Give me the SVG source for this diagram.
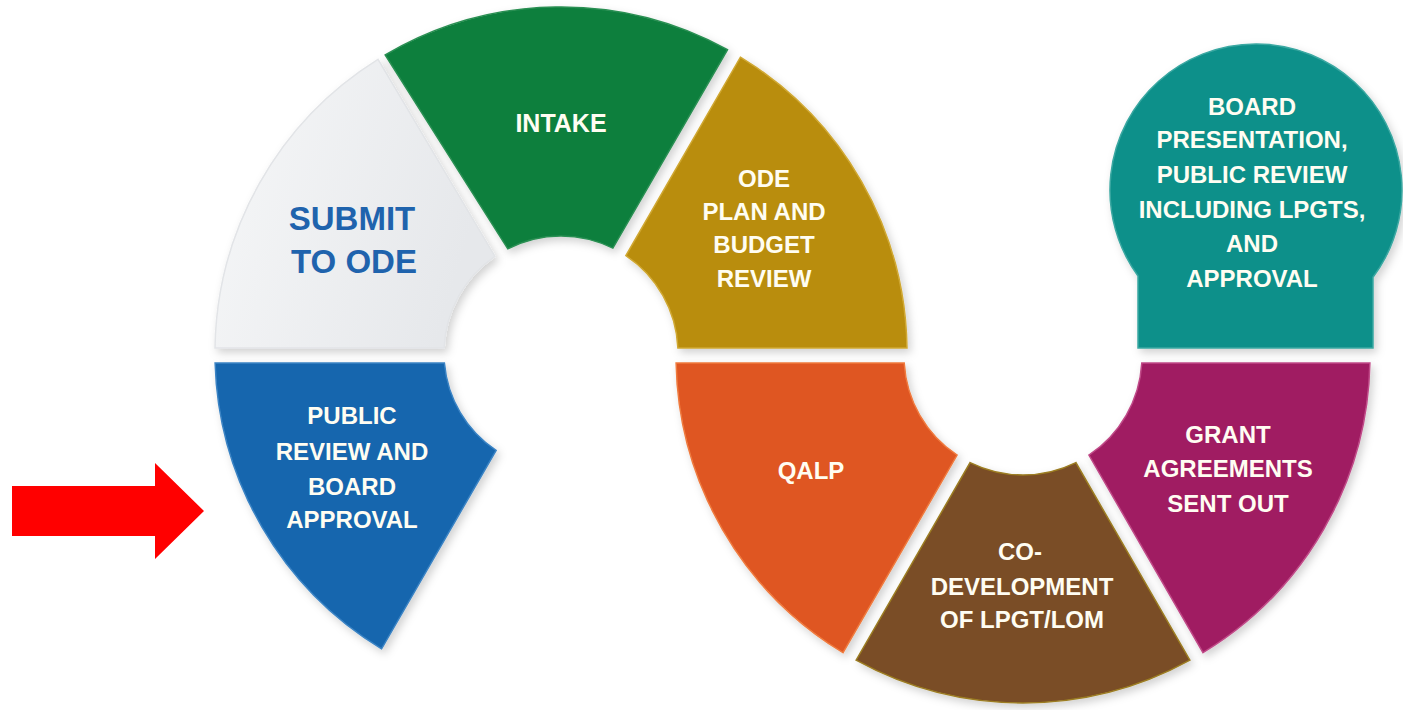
<svg xmlns="http://www.w3.org/2000/svg" width="1403" height="710" viewBox="0 0 1403 710">
  <defs>
    <filter id="shadow" x="-10%" y="-10%" width="125%" height="125%">
      <feDropShadow dx="3" dy="4" stdDeviation="4" flood-color="#000" flood-opacity="0.18"/>
    </filter>
    <linearGradient id="whiteGrad" x1="0" y1="0" x2="1" y2="0.3">
      <stop offset="0" stop-color="#f6f7f8"/>
      <stop offset="1" stop-color="#e6e8eb"/>
    </linearGradient>
    <style>
      .seg { filter: url(#shadow); stroke-width: 1.5; }
      .lbl { font-family: "Liberation Sans", Arial, sans-serif; font-weight: bold; font-size: 24px; fill: #fffdf2; text-anchor: middle; }
      .big { font-size: 33px; fill: #1f63ad; }
    </style>
  </defs>
  <rect width="1403" height="710" fill="#ffffff"/>

  <g id="node-public-review">
    <path class="seg" d="M 215.1,363 L 444.4,363 A 117 117 0 0 0 496.1,450.4 L 381.6,648.8 A 346 346 0 0 1 215.1,363 Z" fill="#1566ae" stroke="#3a83c4"/>
    <text class="lbl" x="352" y="424">PUBLIC</text>
    <text class="lbl" x="352" y="460">REVIEW AND</text>
    <text class="lbl" x="352" y="495">BOARD</text>
    <text class="lbl" x="352" y="528">APPROVAL</text>
  </g>

  <g id="node-submit">
    <path class="seg" d="M 215.0,348 A 346 346 0 0 1 378.0,59.4 L 494.9,256.4 A 117 117 0 0 0 444.1,348 Z" fill="url(#whiteGrad)" stroke="#e2e4e7"/>
    <text class="lbl big" x="352" y="230">SUBMIT</text>
    <text class="lbl big" x="354" y="273">TO ODE</text>
  </g>

  <g id="node-intake">
    <path class="seg" d="M 385.2,55.0 A 346 346 0 0 1 727.5,49.7 L 612.9,248.1 A 117 117 0 0 0 507.8,248.8 Z" fill="#0b7f3e" stroke="#2a8f52"/>
    <text class="lbl" x="561" y="132" style="font-size:25px">INTAKE</text>
  </g>

  <g id="node-ode-review">
    <path class="seg" d="M 740.4,57.2 A 346 346 0 0 1 907.0,348 L 677.9,348 A 117 117 0 0 0 625.9,255.6 Z" fill="#b98d0f" stroke="#d0a832"/>
    <text class="lbl" x="764" y="187">ODE</text>
    <text class="lbl" x="764" y="220">PLAN AND</text>
    <text class="lbl" x="764" y="253">BUDGET</text>
    <text class="lbl" x="764" y="287">REVIEW</text>
  </g>

  <g id="node-qalp">
    <path class="seg" d="M 676.1,363 L 904.2,363 A 119 119 0 0 0 957.1,455.1 L 843.0,652.7 A 347 347 0 0 1 676.1,363 Z" fill="#df5622" stroke="#ef7a3e"/>
    <text class="lbl" x="811" y="479">QALP</text>
  </g>

  <g id="node-codevelopment">
    <path class="seg" d="M 970.1,462.6 A 119 119 0 0 0 1075.9,462.6 L 1189.9,660.2 A 347 347 0 0 1 856.1,660.2 Z" fill="#7a4e25" stroke="#9c7d22" stroke-width="2"/>
    <text class="lbl" x="1020" y="560">CO-</text>
    <text class="lbl" x="1022" y="595">DEVELOPMENT</text>
    <text class="lbl" x="1022" y="628">OF LPGT/LOM</text>
  </g>

  <g id="node-grant">
    <path class="seg" d="M 1141.8,363 L 1369.9,363 A 347 347 0 0 1 1203.0,652.7 L 1088.9,455.1 A 119 119 0 0 0 1141.8,363 Z" fill="#a01e62" stroke="#c04a88"/>
    <text class="lbl" x="1228" y="443">GRANT</text>
    <text class="lbl" x="1228" y="477">AGREEMENTS</text>
    <text class="lbl" x="1228" y="512">SENT OUT</text>
  </g>

  <g id="node-board-presentation">
    <path class="seg" d="M 1138,348 L 1138,276 A 146 146 0 1 1 1373,277.3 L 1373,348 Z" fill="#11908a" stroke="#3aa8a2"/>
    <text class="lbl" x="1252" y="115">BOARD</text>
    <text class="lbl" x="1252" y="148">PRESENTATION,</text>
    <text class="lbl" x="1252" y="183">PUBLIC REVIEW</text>
    <text class="lbl" x="1252" y="218">INCLUDING LPGTS,</text>
    <text class="lbl" x="1252" y="252">AND</text>
    <text class="lbl" x="1252" y="287">APPROVAL</text>
  </g>

  <g id="connectors">
    <polygon points="12,486 155,486 155,463 204,511 155,559 155,536 12,536" fill="#ff0000"/>
  </g>
</svg>
